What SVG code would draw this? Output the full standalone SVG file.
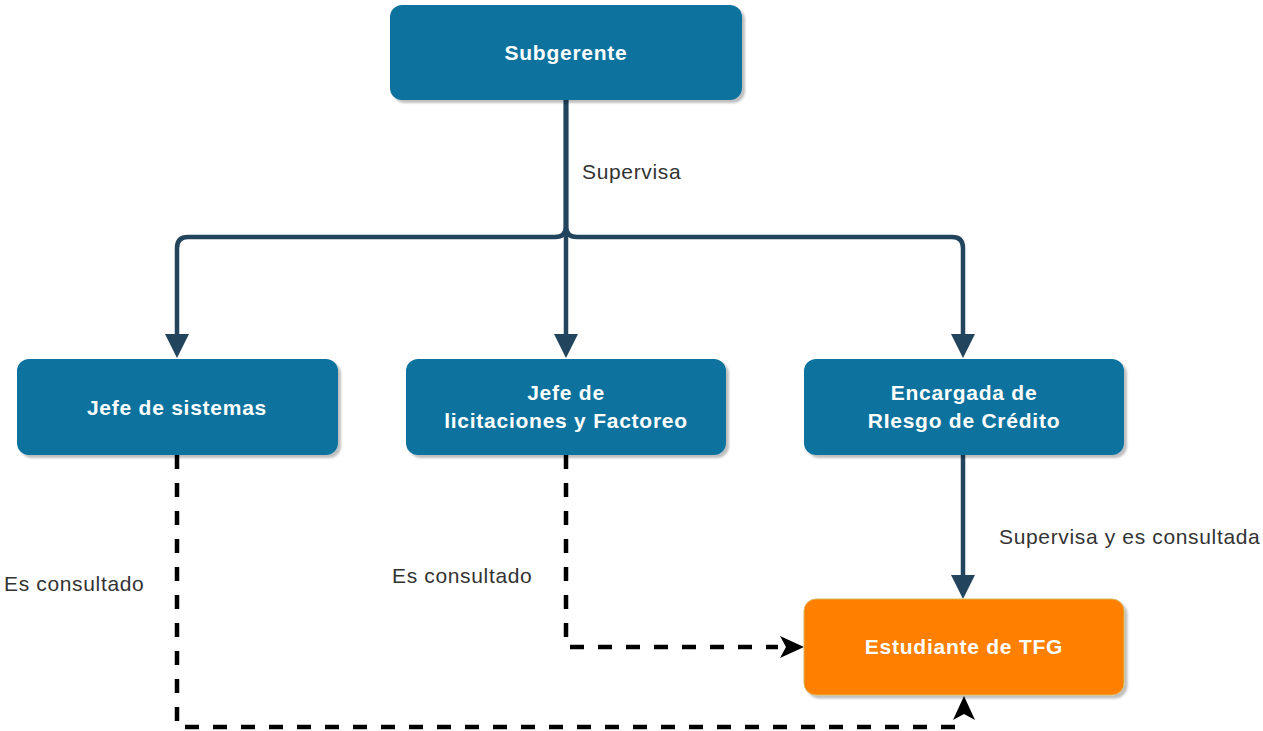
<svg xmlns="http://www.w3.org/2000/svg" width="1263" height="731" viewBox="0 0 1263 731">
<defs>
  <filter id="sh" x="-5%" y="-5%" width="115%" height="125%">
    <feDropShadow dx="3" dy="3" stdDeviation="1.2" flood-color="#000" flood-opacity="0.25"/>
  </filter>
  <marker id="block" viewBox="0 0 24 24" refX="0" refY="12" markerWidth="24" markerHeight="24" markerUnits="userSpaceOnUse" orient="auto">
    <path d="M0,0 L24,12 L0,24 z" fill="#23445D"/>
  </marker>
  <marker id="open" viewBox="0 0 24 24" refX="0" refY="12" markerWidth="24" markerHeight="24" markerUnits="userSpaceOnUse" orient="auto">
    <path d="M0,1 L24,12 L0,23 L6,12 z" fill="#000"/>
  </marker>
</defs>
<style>
  .box { fill: #10739E; filter: url(#sh); }
  .org { fill: #FF8000; stroke: #D6B656; stroke-width: 1; filter: url(#sh); }
  .nt { font-family: "Liberation Sans", Arial, sans-serif; font-size: 21px; font-weight: bold; fill: #FFFFFF; text-anchor: middle; letter-spacing: 0.75px; }
  .lbl { font-family: "Liberation Sans", Arial, sans-serif; font-size: 21px; fill: #333333; letter-spacing: 0.65px; }
  .solid { fill: none; stroke: #23445D; stroke-width: 4.5; marker-end: url(#block); }
  .dash { fill: none; stroke: #000; stroke-width: 4.5; stroke-dasharray: 14 14; }
  .tip { fill: none; stroke: none; marker-end: url(#open); }
</style>
<rect width="1263" height="731" fill="#FFFFFF"/>
<g id="connectors">
  <path class="solid" d="M566,100 V226 Q566,237 555,237 H188 Q177,237 177,248 V334"/>
  <path class="solid" d="M566,100 V334"/>
  <path class="solid" d="M566,100 V226 Q566,237 577,237 H952 Q963,237 963,248 V334"/>
  <path class="solid" d="M963,455 V575"/>
  <path class="dash" d="M566,455 V647 H778"/>
  <path class="tip" d="M776,647 H780"/>
  <path class="dash" d="M177,455 V727 H962"/>
  <path class="tip" d="M964,724 V720"/>
  <text class="lbl" x="582" y="179">Supervisa</text>
  <text class="lbl" x="999" y="544">Supervisa y es consultada</text>
  <text class="lbl" x="4" y="591">Es consultado</text>
  <text class="lbl" x="392" y="583">Es consultado</text>
</g>
<g id="subgerente">
  <rect class="box" x="390" y="5" width="352" height="95" rx="12"/>
  <text class="nt" x="566" y="60">Subgerente</text>
</g>
<g id="jefe-sistemas">
  <rect class="box" x="17" y="359" width="321" height="96" rx="12"/>
  <text class="nt" x="177" y="415">Jefe de sistemas</text>
</g>
<g id="jefe-licitaciones">
  <rect class="box" x="406" y="359" width="320" height="96" rx="12"/>
  <text class="nt" x="566" y="400">Jefe de</text>
  <text class="nt" x="566" y="428">licitaciones y Factoreo</text>
</g>
<g id="encargada">
  <rect class="box" x="804" y="359" width="320" height="96" rx="12"/>
  <text class="nt" x="964" y="400">Encargada de</text>
  <text class="nt" x="964" y="428">RIesgo de Crédito</text>
</g>
<g id="estudiante">
  <rect class="org" x="804" y="599" width="320" height="96" rx="12"/>
  <text class="nt" x="964" y="654">Estudiante de TFG</text>
</g>
</svg>
